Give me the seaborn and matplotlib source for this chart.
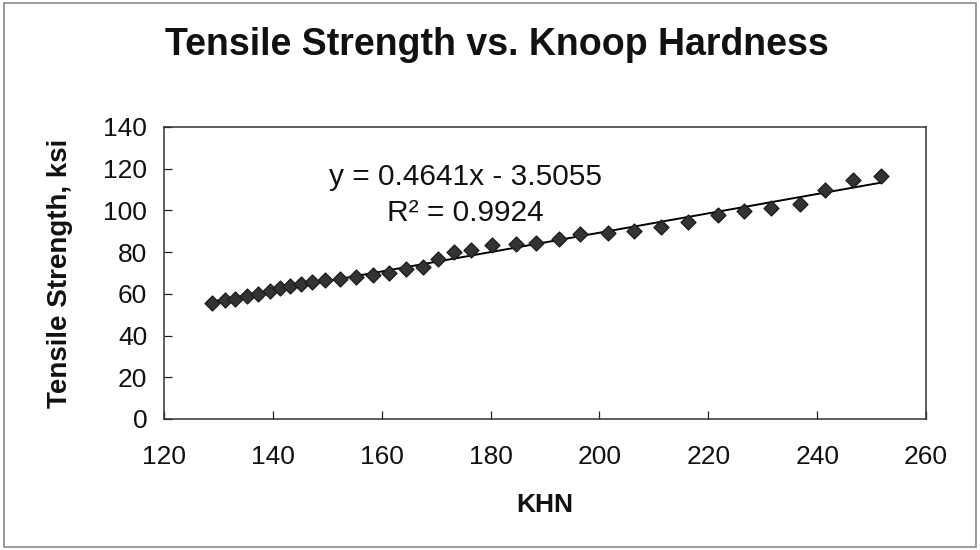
import numpy as np
import pandas as pd
import matplotlib
matplotlib.use("Agg")
import matplotlib.pyplot as plt
from matplotlib.patches import Rectangle
import seaborn as sns

# ---- data ----
khn = [128.9, 131.2, 133.0, 135.2, 137.3, 139.4, 141.3, 143.1, 145.2, 147.1,
       149.5, 152.3, 155.3, 158.4, 161.4, 164.5, 167.5, 170.3, 173.3, 176.4,
       180.3, 184.6, 188.3, 192.6, 196.5, 201.6, 206.3, 211.4, 216.2, 221.8,
       226.5, 231.5, 236.9, 241.4, 246.6, 251.8]
tensile = [55.7, 57.2, 57.6, 59.2, 60.0, 61.6, 62.9, 64.0, 64.5, 65.6,
           66.7, 67.2, 68.3, 69.2, 70.1, 71.7, 72.8, 76.8, 80.0, 80.8,
           83.2, 83.7, 84.3, 86.4, 88.8, 89.3, 90.1, 92.0, 94.4, 97.6,
           99.5, 101.1, 103.2, 109.6, 114.7, 116.3]
slope = 0.4641
intercept = -3.5055
r_squared = 0.9924
x_ticks = [120, 140, 160, 180, 200, 220, 240, 260]
y_ticks = [0, 20, 40, 60, 80, 100, 120, 140]

title = "Tensile Strength vs. Knoop Hardness"
x_label = "KHN"
y_label = "Tensile Strength, ksi"

# ---- style ----
sns.set_theme(style="ticks")
plt.rcParams["font.family"] = ["Liberation Sans", "DejaVu Sans"]

fig = plt.figure(figsize=(9.8, 5.5), dpi=100)
fig.patch.set_facecolor("white")
ax = fig.add_axes([164 / 980, 1 - 419 / 550, (926 - 164) / 980, (419 - 127) / 550])

df = pd.DataFrame({"KHN": khn, "TS": tensile})
sns.scatterplot(data=df, x="KHN", y="TS", marker="D", s=58, color="#333333",
                edgecolor="#1a1a1a", linewidth=0.9, ax=ax, zorder=3)

line_df = pd.DataFrame({"KHN": [min(khn), max(khn)]})
line_df["fit"] = slope * line_df["KHN"] + intercept
sns.lineplot(data=line_df, x="KHN", y="fit", color="black", linewidth=1.4,
             ax=ax, zorder=2)

ax.set_xlim(120, 260)
ax.set_ylim(0, 140)
ax.set_xticks(x_ticks)
ax.set_yticks(y_ticks)
ax.tick_params(axis="both", direction="in", length=6, width=0.9,
               colors="#222222", labelsize=19, labelcolor="#111111")
ax.tick_params(axis="x", pad=19)
ax.tick_params(axis="y", pad=12)
for sp in ax.spines.values():
    sp.set_visible(True)
    sp.set_color("#333333")
    sp.set_linewidth(1.1)

ax.set_xlabel(x_label, fontsize=19, fontweight="bold", labelpad=17, color="#111111")
ax.set_ylabel(y_label, fontsize=20, fontweight="bold", labelpad=22, color="#111111")

ax.text(0.217, 0.829, f"y = {slope}x - {abs(intercept)}", transform=ax.transAxes,
        ha="left", va="center", fontsize=21.5, color="#111111")
ax.text(0.293, 0.705, f"R² = {r_squared}", transform=ax.transAxes,
        ha="left", va="center", fontsize=21.5, color="#111111")

fig.text(0.507, 1 - 45 / 550, title, ha="center", va="center",
         fontsize=27, fontweight="bold", color="#111111")

fig.patches.append(Rectangle((0.004, 0.006), 0.992, 0.988, transform=fig.transFigure,
                             fill=False, edgecolor="#8a8a8a", linewidth=1.2))

fig.savefig("out.png", dpi=100, facecolor="white")
